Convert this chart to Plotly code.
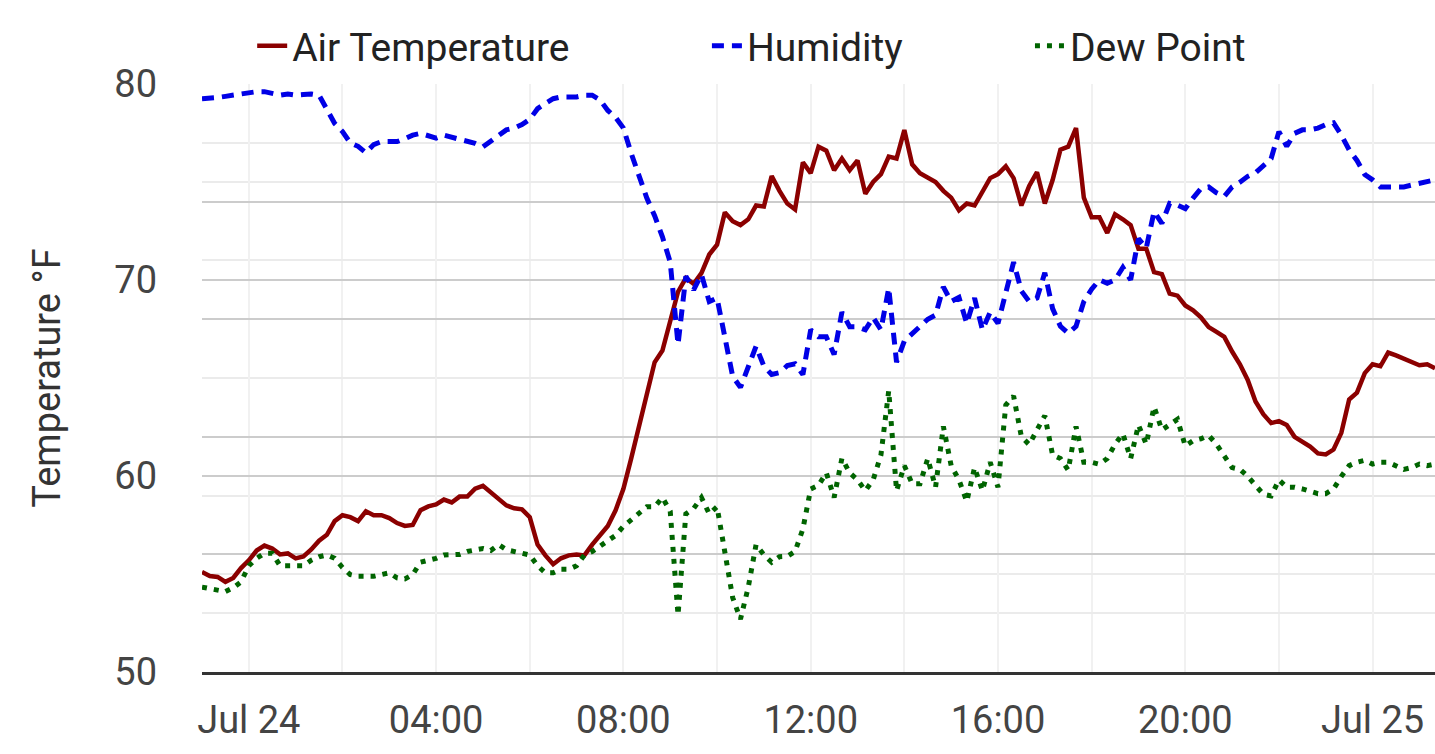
import pandas as pd
import plotly.graph_objects as go

# ---------------- data (10-minute readings) ----------------
times = pd.date_range("2024-07-23 23:00", periods=159, freq="10min")

air_temp = [
    55.1, 54.9, 54.85, 54.6, 54.8, 55.3, 55.7, 56.2, 56.45, 56.3,
    56.0, 56.05, 55.8, 55.9, 56.25, 56.7, 57.0, 57.7, 58.0, 57.9,
    57.7, 58.2, 58.0, 58.0, 57.85, 57.6, 57.45, 57.5, 58.25, 58.45,
    58.55, 58.8, 58.65, 58.95, 58.95, 59.35, 59.5, 59.15, 58.85, 58.5,
    58.35, 58.3, 57.9, 56.5, 55.95, 55.5, 55.8, 55.95, 56.0, 55.95,
    56.5, 56.95, 57.45, 58.25, 59.35, 60.9, 62.5, 64.25, 65.8, 66.4,
    67.8, 69.4, 70.1, 69.8, 70.35, 71.3, 71.8, 73.45, 73.0, 72.8,
    73.1, 73.8, 73.75, 75.3, 74.55, 73.9, 73.6, 76.0, 75.45, 76.8,
    76.6, 75.6, 76.2, 75.6, 76.1, 74.4, 75.0, 75.4, 76.3, 76.2,
    77.65, 75.9, 75.45, 75.2, 75.0, 74.55, 74.2, 73.55, 73.9, 73.8,
    74.55, 75.2, 75.4, 75.8, 75.2, 73.8, 74.8, 75.5, 73.9, 75.1,
    76.65, 76.8, 77.75, 74.2, 73.2, 73.2, 72.4, 73.35, 73.1, 72.8,
    71.6, 71.6, 70.4, 70.3, 69.3, 69.2, 68.7, 68.45, 68.1, 67.6,
    67.35, 67.1, 66.35, 65.7, 64.9, 63.8, 63.15, 62.7, 62.8, 62.6,
    62.0, 61.75, 61.5, 61.15, 61.1, 61.35, 62.2, 63.9, 64.25, 65.25,
    65.7, 65.6, 66.3, 66.15, 66.0, 65.8, 65.65, 65.7, 65.5,
]

humidity = [
    97.5, 97.5, 97.7, 97.9, 98.1, 98.4, 98.7, 98.7, 98.7, 98.3,
    98.1, 98.3, 98.1, 98.2, 98.3, 98.1, 95.5, 93.3, 91.9, 90.0,
    89.4, 88.3, 89.7, 90.2, 90.2, 90.2, 90.7, 91.3, 91.6, 91.3,
    90.8, 91.3, 91.0, 90.7, 90.3, 89.9, 89.3, 90.3, 91.3, 92.2,
    92.5, 93.1, 94.0, 95.8, 96.7, 97.5, 97.8, 97.8, 97.8, 98.1,
    98.1, 97.3, 95.5, 94.3, 92.5, 88.2, 84.3, 80.6, 77.6, 74.0,
    69.7, 55.7, 67.3, 65.0, 67.6, 63.0, 63.6, 57.0, 50.3, 48.4,
    52.1, 55.4, 52.0, 50.6, 50.9, 52.1, 52.4, 50.6, 58.2, 57.0,
    57.0, 54.0, 61.2, 58.7, 58.7, 58.2, 60.3, 58.2, 65.3, 52.7,
    56.3, 57.6, 58.8, 60.0, 60.7, 65.5, 63.0, 63.7, 59.3, 63.6,
    58.2, 61.2, 59.3, 64.3, 69.7, 64.8, 63.0, 63.6, 67.9, 61.8,
    58.8, 57.6, 58.8, 63.0, 65.1, 66.7, 66.1, 66.7, 68.8, 66.7,
    73.7, 72.1, 78.3, 76.3, 79.7, 79.4, 78.8, 80.6, 82.2, 82.5,
    81.5, 80.9, 82.5, 83.3, 84.3, 84.9, 86.1, 87.3, 91.9, 89.4,
    91.6, 92.2, 92.2, 92.5, 93.1, 93.4, 91.3, 88.8, 87.0, 84.6,
    83.7, 82.5, 82.5, 82.5, 82.5, 82.8, 83.1, 83.3, 83.7,
]

dew_point = [
    54.33, 54.25, 54.15, 54.1, 54.3, 54.6, 55.42, 55.8, 56.06, 56.06,
    55.42, 55.42, 55.42, 55.42, 55.7, 55.88, 55.97, 55.8, 55.33, 54.97,
    54.88, 54.88, 54.88, 54.97, 55.06, 54.8, 54.75, 54.97, 55.6, 55.7,
    55.8, 55.97, 55.97, 56.0, 56.15, 56.24, 56.3, 56.2, 56.5, 56.24,
    56.15, 56.12, 55.97, 55.42, 55.06, 55.06, 55.24, 55.24, 55.42, 55.97,
    56.15, 56.42, 56.7, 56.97, 57.43, 57.79, 58.07, 58.43, 58.43, 58.9,
    58.2, 52.9, 58.07, 58.34, 58.9, 58.07, 58.43, 55.97, 53.8, 52.69,
    54.33, 56.5, 55.97, 55.6, 55.88, 55.9, 56.15, 57.3, 59.34, 59.52,
    60.16, 58.9, 60.9, 60.16, 59.8, 59.25, 59.8, 61.07, 64.35, 59.25,
    60.53, 59.6, 59.6, 60.89, 59.43, 62.53, 60.53, 59.8, 58.7, 60.43,
    59.25, 60.7, 59.43, 63.62, 64.08, 62.0, 61.6, 62.35, 63.08, 61.07,
    60.89, 60.3, 62.53, 60.7, 60.7, 60.6, 60.89, 61.62, 62.16, 60.89,
    62.6, 61.62, 63.53, 62.35, 62.6, 62.89, 61.53, 61.8, 61.9, 62.07,
    61.62, 61.07, 60.43, 60.34, 59.98, 59.52, 59.07, 58.98, 59.8, 59.43,
    59.43, 59.34, 59.25, 59.1, 59.1, 59.34, 59.98, 60.53, 60.7, 60.8,
    60.61, 60.7, 60.7, 60.53, 60.34, 60.43, 60.61, 60.53, 60.61,
]

tick_times = ["2024-07-24 00:00", "2024-07-24 04:00", "2024-07-24 08:00",
              "2024-07-24 12:00", "2024-07-24 16:00", "2024-07-24 20:00",
              "2024-07-25 00:00"]
tick_labels = ["Jul 24", "04:00", "08:00", "12:00", "16:00", "20:00", "Jul 25"]
temp_ticks = [50, 60, 70, 80]

FONT = "Roboto"

fig = go.Figure()
fig.add_trace(go.Scatter(x=times, y=air_temp, name="Air Temperature", mode="lines",
                         line=dict(color="#8b0000", width=4.5), legend="legend",
                         showlegend=True))
fig.add_trace(go.Scatter(x=times, y=humidity, name="Humidity", mode="lines", yaxis="y2",
                         line=dict(color="#0000e6", width=5, dash="12px,8px"),
                         legend="legend2", showlegend=True))
fig.add_trace(go.Scatter(x=times, y=dew_point, name="Dew Point", mode="lines",
                         line=dict(color="#006400", width=5, dash="5px,7px"),
                         legend="legend3", showlegend=True))

leg_common = dict(orientation="h", yanchor="middle", y=1.065, xanchor="left",
                  font=dict(family=FONT, size=39, color="#222222"),
                  bgcolor="rgba(0,0,0,0)", borderwidth=0, visible=True)

fig.update_layout(
    width=1435, height=754,
    showlegend=True,
    margin=dict(l=202, r=0, t=84, b=82, pad=0),
    paper_bgcolor="white", plot_bgcolor="white",
    font=dict(family=FONT, size=38, color="#444444"),
    legend=dict(x=0.0407, **leg_common),
    legend2=dict(x=0.4095, **leg_common),
    legend3=dict(x=0.6715, **leg_common),
    xaxis=dict(
        tickmode="array", tickvals=tick_times, ticktext=tick_labels,
        showgrid=True, gridcolor="#f1f1f1", gridwidth=2,
        minor=dict(tickmode="linear", tick0="2024-07-24 00:00", dtick=2 * 3600 * 1000,
                   showgrid=True, gridcolor="#f1f1f1", gridwidth=2),
        showline=True, linecolor="#333333", linewidth=3,
        zeroline=False, ticks="", ticklabelstandoff=12,
        tickfont=dict(family=FONT, size=38, color="#444444"),
        automargin=False,
    ),
    yaxis=dict(
        range=[50, 80], tickmode="array", tickvals=temp_ticks,
        showgrid=True, gridcolor="#cccccc", gridwidth=2,
        minor=dict(tickmode="linear", tick0=50, dtick=5, showgrid=True,
                   gridcolor="#ebebeb", gridwidth=2),
        zeroline=False, showline=False, ticks="", ticklabelstandoff=44,
        tickfont=dict(family=FONT, size=38, color="#444444"),
        title=dict(text="Temperature °F", standoff=41,
                   font=dict(family=FONT, size=38, color="#333333")),
        automargin=False,
    ),
    yaxis2=dict(
        range=[0, 100], overlaying="y", side="right", tickmode="linear", tick0=0, dtick=20,
        showgrid=True, gridcolor="#cccccc", gridwidth=2,
        minor=dict(tickmode="linear", tick0=0, dtick=10, showgrid=True,
                   gridcolor="#ebebeb", gridwidth=2),
        zeroline=False, showline=False, showticklabels=False, ticks="",
        automargin=False,
    ),
)

fig.write_html("out.html", config={"displayModeBar": False},
               post_script="document.body.style.margin='0px';document.body.style.overflow='hidden';")
